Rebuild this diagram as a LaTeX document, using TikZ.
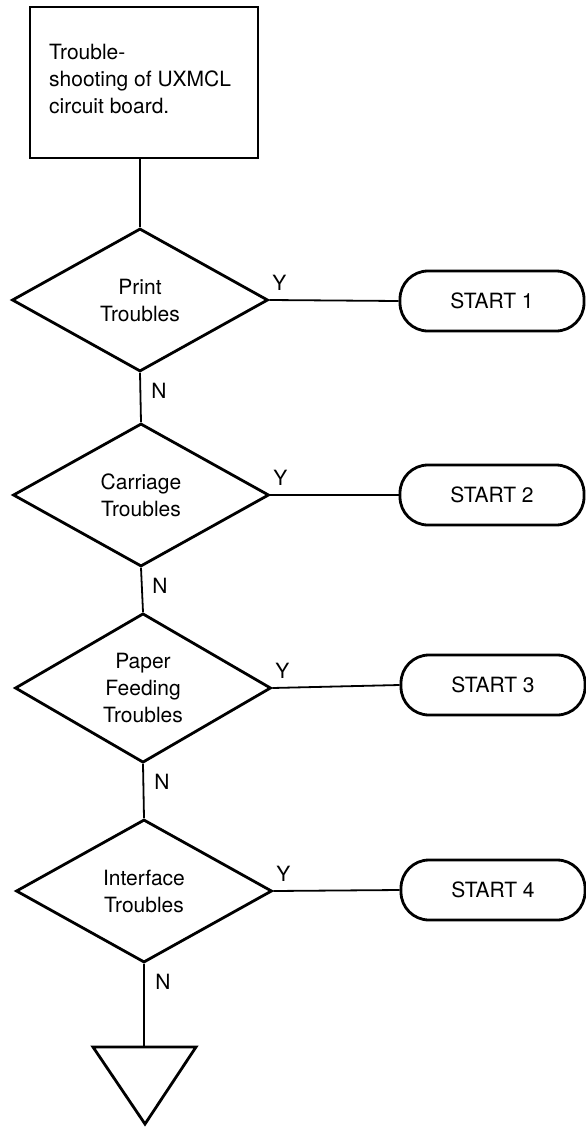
\documentclass[tikz,border=0pt]{standalone}
\usepackage{fontspec}
\setmainfont{TeX Gyre Heros}
\usetikzlibrary{shapes.geometric}
\begin{document}
\begin{tikzpicture}[x=1pt,y=-1pt,
  font=\fontsize{21}{27}\selectfont,
  thickline/.style={line width=2.8pt},
  decision/.style={diamond, draw, thickline, minimum width=256pt, minimum height=143pt, inner sep=0pt, align=center},
  startbox/.style={draw, thickline, rounded corners=28pt, minimum width=184pt, minimum height=60pt, inner sep=0pt},
  conn/.style={line width=1.8pt},
  lbl/.style={inner sep=0pt}]
\useasboundingbox (0,0) rectangle (586,1127);

\node[draw, thickline, minimum width=228pt, minimum height=151pt, inner sep=0pt] (box) at (144,82.5) {};
\node[anchor=north west, inner sep=0pt, align=left] (boxtext) at (49,44)
  {Trouble-\\shooting of UXMCL\\circuit board.};

\node[decision] (d1) at (140,300) {Print\\Troubles};
\node[decision] (d2) at (141,495) {Carriage\\Troubles};
\node[decision] (d3) at (143,688) {Paper\\Feeding\\Troubles};
\node[decision] (d4) at (144,891) {Interface\\Troubles};

\node[startbox] (s1) at (492,301) {START 1};
\node[startbox] (s2) at (492,495) {START 2};
\node[startbox] (s3) at (493,685) {START 3};
\node[startbox] (s4) at (493,890) {START 4};

\coordinate (tri) at (144,1047);
\draw[thickline] (93,1047) -- (196,1047) -- (145,1124) -- cycle;

\draw[conn] (box.south -| d1.north) -- (d1.north);
\draw[conn] (d1.south) -- (d2.north);
\draw[conn] (d2.south) -- (d3.north);
\draw[conn] (d3.south) -- (d4.north);
\draw[conn] (d4.south) -- (tri);

\draw[conn] (d1.east) -- (s1.west);
\draw[conn] (d2.east) -- (s2.west);
\draw[conn] (d3.east) -- (s3.west);
\draw[conn] (d4.east) -- (s4.west);

\node[lbl] (y1) at ([shift={(10,-17)}]d1.east) {Y};
\node[lbl] (y2) at ([shift={(10,-17)}]d2.east) {Y};
\node[lbl] (y3) at ([shift={(10,-17)}]d3.east) {Y};
\node[lbl] (y4) at ([shift={(10,-17)}]d4.east) {Y};

\node[lbl] (n1) at ([shift={(19,18)}]d1.south) {N};
\node[lbl] (n2) at ([shift={(19,18)}]d2.south) {N};
\node[lbl] (n3) at ([shift={(19,18)}]d3.south) {N};
\node[lbl] (n4) at ([shift={(19,18)}]d4.south) {N};
\end{tikzpicture}
\end{document}
